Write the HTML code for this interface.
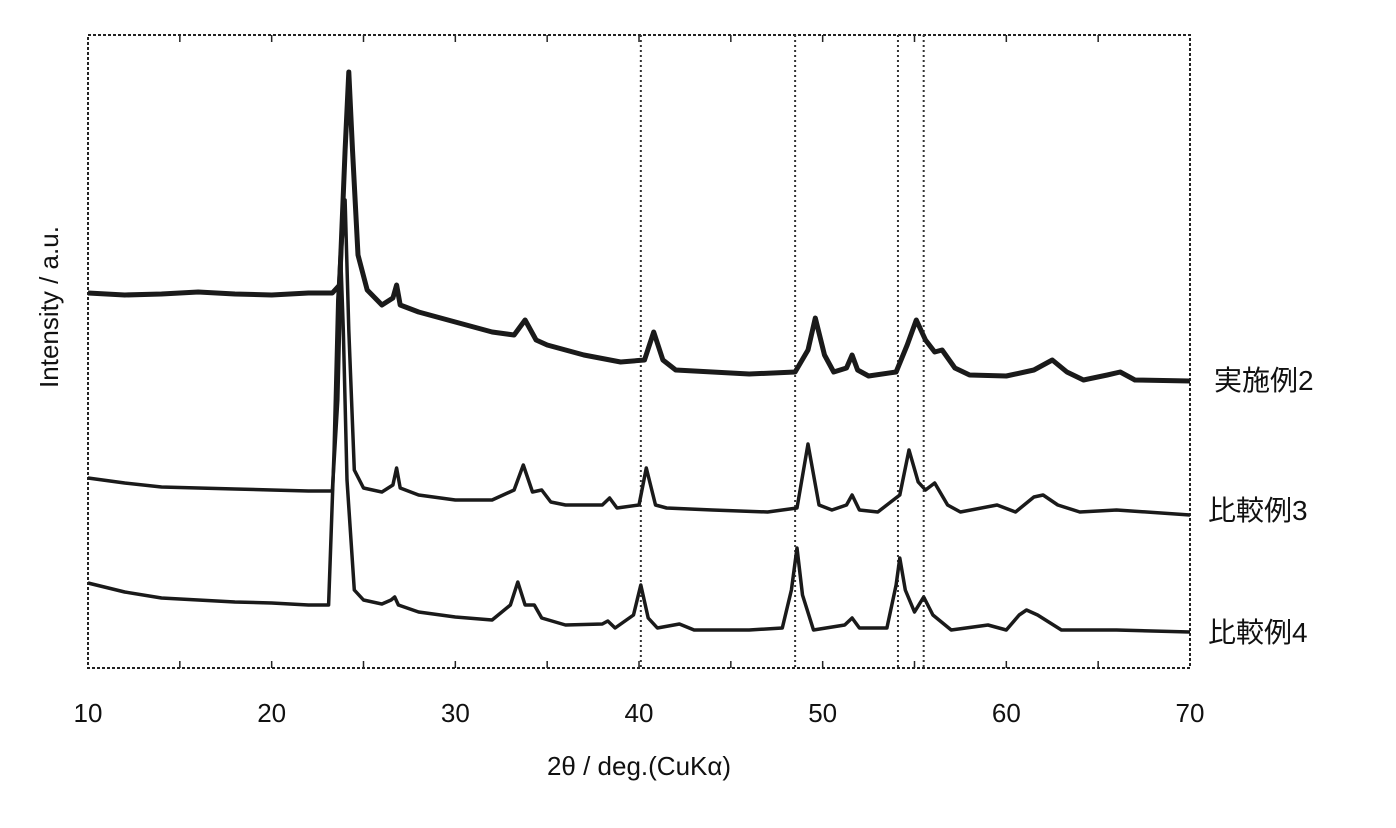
<!DOCTYPE html>
<html><head><meta charset="utf-8">
<style>
html,body{margin:0;padding:0;background:#fff;}
svg{display:block;}
text{font-family:"Liberation Sans","Noto Sans CJK JP",sans-serif;fill:#111;}
</style></head>
<body>
<svg id="chart" width="1396" height="828" viewBox="0 0 1396 828">
  <rect x="88" y="35" width="1102" height="633" fill="none" stroke="#222" stroke-width="2" stroke-dasharray="3,2"/>
  <g id="refs"></g>
  <g id="ticks"></g>
  <g id="series"></g>
  <text x="639" y="775" font-size="26" text-anchor="middle">2θ / deg.(CuKα)</text>
  <text transform="translate(58,307) rotate(-90)" font-size="26" text-anchor="middle">Intensity / a.u.</text>
</svg>
<script>
const xTicks = [10, 20, 30, 40, 50, 60, 70];
const minorTicks = [15, 20, 25, 30, 35, 40, 45, 50, 55, 60, 65];
const refLines = [40.1, 48.5, 54.1, 55.5];
const seriesNames = ["実施例2", "比較例3", "比較例4"];
const labelValues = [288, 158, 36];

const xA = [10,12,14,16,18,20,22,23.3,23.7,24.0,24.2,24.4,24.7,25.2,26,26.6,26.8,27.0,28,30,32,33.2,33.8,34.4,35,37,39,40.3,40.8,41.3,42,44,46,48.5,49.2,49.6,50.1,50.6,51.3,51.6,51.9,52.5,54,54.6,55.1,55.6,56.1,56.5,57.2,58,60,61.5,62.5,63.3,64.2,65.5,66.2,67,70];
const yA = [375,373,374,376,374,373,375,375,383,518,596,518,413,378,363,370,383,363,356,346,336,333,348,328,323,313,306,308,336,308,298,296,294,296,318,350,313,296,300,313,298,292,296,323,348,328,316,318,300,293,292,298,308,296,288,293,296,288,287];

const xB = [10,12,14,16,18,20,22,23.3,23.6,23.8,24.0,24.2,24.5,25,26,26.6,26.8,27.0,28,30,32,33.2,33.7,34.2,34.7,35.2,36,38,38.4,38.8,40,40.4,40.9,41.5,44,47,48.6,49.2,49.8,50.5,51.3,51.6,52,53,54.2,54.7,55.2,55.6,56.1,56.8,57.5,59.5,60.5,61.5,62,62.8,64,66,70];
const yB = [190,185,181,180,179,178,177,177,268,418,468,338,198,180,176,183,200,180,173,168,168,178,203,176,178,166,163,163,170,160,163,200,163,160,158,156,160,224,163,158,163,173,158,156,173,218,186,178,185,163,156,163,156,171,173,163,156,158,153];

const xC = [10,12,14,16,18,20,22,23.1,23.4,23.6,23.75,23.9,24.1,24.5,25,26,26.5,26.7,26.9,28,30,32,33,33.4,33.8,34.3,34.7,36,38,38.3,38.7,39.7,40.1,40.5,41,42.2,43,46,47.8,48.3,48.6,48.9,49.5,51.2,51.6,52,53.5,54,54.2,54.5,55,55.5,56,57,59,60,60.7,61.1,61.7,63,66,70];
const yC = [85,76,70,68,66,65,63,63,218,368,418,338,188,78,68,64,68,71,63,56,51,48,63,86,63,63,50,43,44,47,40,53,83,50,40,44,38,38,40,78,120,73,38,43,50,40,40,83,110,78,56,71,53,38,43,38,53,58,53,38,38,36];

const NS = "http://www.w3.org/2000/svg";
const X0 = 88, X1 = 1190, Y0 = 668, Y1 = 35;
function sx(v){ return X0 + (v - 10) / 60 * (X1 - X0); }
function sy(v){ return Y0 - v / 633 * (Y0 - Y1); }

const svg = document.getElementById('chart');
const refs = document.getElementById('refs');
refLines.forEach(v => {
  const l = document.createElementNS(NS, 'line');
  l.setAttribute('x1', sx(v)); l.setAttribute('x2', sx(v));
  l.setAttribute('y1', Y1); l.setAttribute('y2', Y0);
  l.setAttribute('stroke', '#333'); l.setAttribute('stroke-width', '2');
  l.setAttribute('stroke-dasharray', '2,3');
  
  
  refs.appendChild(l);
});

const ticks = document.getElementById('ticks');
minorTicks.forEach(v => {
  [[Y1, Y1 + 7], [Y0, Y0 - 7]].forEach(p => {
    const t = document.createElementNS(NS, 'line');
    t.setAttribute('x1', sx(v)); t.setAttribute('x2', sx(v));
    t.setAttribute('y1', p[0]); t.setAttribute('y2', p[1]);
    t.setAttribute('stroke', '#222'); t.setAttribute('stroke-width', '1.5');
    
    
    ticks.appendChild(t);
  });
});
xTicks.forEach(v => {
  const t = document.createElementNS(NS, 'text');
  t.setAttribute('x', sx(v)); t.setAttribute('y', 722);
  t.setAttribute('font-size', '26'); t.setAttribute('text-anchor', 'middle');
  t.textContent = v;
  
  
  svg.appendChild(t);
});

const group = document.getElementById('series');
const allX = [xA, xB, xC], allY = [yA, yB, yC];
allX.forEach((xs, i) => {
  const pts = xs.map((x, j) => sx(x).toFixed(1) + ',' + sy(allY[i][j]).toFixed(1)).join(' ');
  const pl = document.createElementNS(NS, 'polyline');
  pl.setAttribute('points', pts);
  pl.setAttribute('fill', 'none');
  pl.setAttribute('stroke', '#1a1a1a');
  pl.setAttribute('stroke-width', i === 0 ? '5' : '3.5');
  pl.setAttribute('stroke-linejoin', 'round');
  
  
  group.appendChild(pl);
  const lb = document.createElementNS(NS, 'text');
  lb.setAttribute('x', i === 0 ? 1214 : 1208);
  lb.setAttribute('y', sy(labelValues[i]) + 10);
  lb.setAttribute('font-size', '28');
  lb.textContent = seriesNames[i];
  
  
  svg.appendChild(lb);
});
</script>
</body></html>
